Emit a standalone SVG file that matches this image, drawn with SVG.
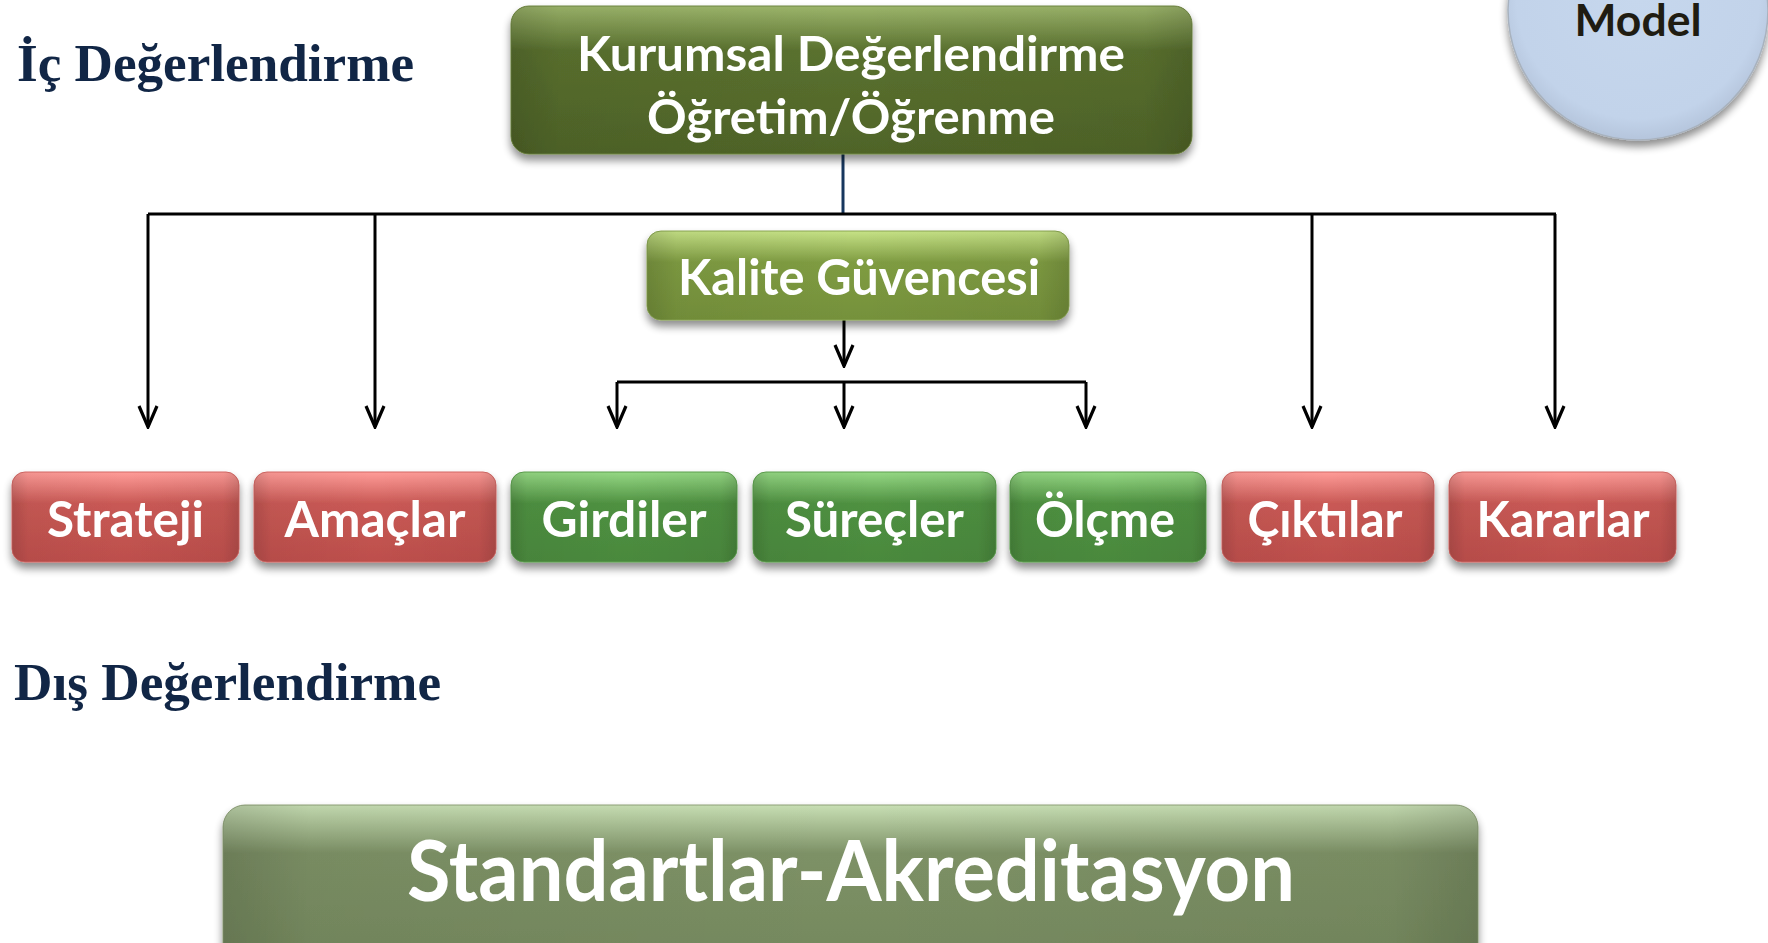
<svg xmlns="http://www.w3.org/2000/svg" width="1768" height="943" viewBox="0 0 1768 943">
<defs>
<style>
.head{font-family:"Liberation Serif","Times New Roman",serif;font-weight:bold;fill:#112646;font-size:52px}
.bt{font-family:Lato,"Open Sans","Liberation Sans",sans-serif;font-weight:bold;fill:#ffffff;text-anchor:middle}
.ln{stroke:#000;stroke-width:3;fill:none}
.box{filter:url(#sh)}
.sideshade{fill:url(#gSide)}
</style>
<filter id="sh" x="-10%" y="-20%" width="120%" height="150%">
<feGaussianBlur in="SourceAlpha" stdDeviation="4"/>
<feOffset dy="6" result="b"/>
<feComponentTransfer><feFuncA type="linear" slope="0.45"/></feComponentTransfer>
<feMerge><feMergeNode/><feMergeNode in="SourceGraphic"/></feMerge>
</filter>
<linearGradient id="gSide" x1="0" y1="0" x2="1" y2="0">
<stop offset="0" stop-color="#000" stop-opacity="0.14"/><stop offset="0.07" stop-color="#000" stop-opacity="0.04"/><stop offset="0.5" stop-color="#000" stop-opacity="0"/><stop offset="0.93" stop-color="#000" stop-opacity="0.04"/><stop offset="1" stop-color="#000" stop-opacity="0.14"/>
</linearGradient>
<linearGradient id="gDark" x1="0" y1="0" x2="0" y2="1">
<stop offset="0" stop-color="#9cb56b"/><stop offset="0.3" stop-color="#5a712f"/><stop offset="1" stop-color="#4f6428"/>
</linearGradient>
<linearGradient id="gKal" x1="0" y1="0" x2="0" y2="1">
<stop offset="0" stop-color="#c6e286"/><stop offset="0.35" stop-color="#7f9c42"/><stop offset="1" stop-color="#75913b"/>
</linearGradient>
<linearGradient id="gRed" x1="0" y1="0" x2="0" y2="1">
<stop offset="0" stop-color="#ff9c98"/><stop offset="0.35" stop-color="#c95955"/><stop offset="1" stop-color="#bd4f4c"/>
</linearGradient>
<linearGradient id="gGrn" x1="0" y1="0" x2="0" y2="1">
<stop offset="0" stop-color="#95d884"/><stop offset="0.35" stop-color="#4f9141"/><stop offset="1" stop-color="#4a893d"/>
</linearGradient>
<linearGradient id="gStd" x1="0" y1="0" x2="0" y2="1">
<stop offset="0" stop-color="#c8dfb4"/><stop offset="0.3" stop-color="#7d9166"/><stop offset="1" stop-color="#74885d"/>
</linearGradient>
<radialGradient id="gCirc" cx="0.5" cy="0.45" r="0.55">
<stop offset="0" stop-color="#c6d7ed"/><stop offset="0.85" stop-color="#c2d3ea"/><stop offset="1" stop-color="#b5c5dc"/>
</radialGradient>
<marker id="arr" viewBox="0 0 26 22" refX="24" refY="11" markerWidth="26" markerHeight="22" markerUnits="userSpaceOnUse" orient="auto">
<path d="M3,2 L24,11 L3,20" fill="none" stroke="#000" stroke-width="3.2"/>
</marker>
</defs>
<rect width="1768" height="943" fill="#ffffff"/>

<g id="model">
<circle cx="1638" cy="10" r="130" fill="url(#gCirc)" stroke="#a8b2be" stroke-width="1.5" filter="url(#sh)"/>
<text x="1638" y="36" text-anchor="middle" style="font-family:Lato,'Open Sans','Liberation Sans',sans-serif;font-weight:bold;font-size:44px;fill:#1f1c12" textLength="127" lengthAdjust="spacingAndGlyphs">Model</text>
</g>

<g id="ic-degerlendirme">
<text class="head" x="17" y="81" textLength="397" lengthAdjust="spacingAndGlyphs">İç Değerlendirme</text>
</g>
<g id="dis-degerlendirme">
<text class="head" x="14" y="700" textLength="427" lengthAdjust="spacingAndGlyphs">Dış Değerlendirme</text>
</g>

<g id="connectors">
<path d="M843,154 V214" stroke="#17375e" stroke-width="3" fill="none"/>
<path class="ln" d="M148,214 H1556"/>
<path class="ln" d="M148,214 V427" marker-end="url(#arr)"/>
<path class="ln" d="M375,214 V427" marker-end="url(#arr)"/>
<path class="ln" d="M1312,214 V427" marker-end="url(#arr)"/>
<path class="ln" d="M1555,214 V427" marker-end="url(#arr)"/>
<path class="ln" d="M844,320 V366" marker-end="url(#arr)"/>
<path class="ln" d="M617,382 H1086"/>
<path class="ln" d="M617,382 V427" marker-end="url(#arr)"/>
<path class="ln" d="M844,382 V427" marker-end="url(#arr)"/>
<path class="ln" d="M1086,382 V427" marker-end="url(#arr)"/>
</g>

<g id="kurumsal" class="box">
<rect x="511" y="6" width="681" height="148" rx="18" fill="url(#gDark)" stroke="#6f8640" stroke-width="1"/>
<rect class="sideshade" x="511" y="6" width="681" height="148" rx="18"/>
<text class="bt" x="851" y="71" font-size="48" textLength="548" lengthAdjust="spacingAndGlyphs">Kurumsal Değerlendirme</text>
<text class="bt" x="851" y="134" font-size="48" textLength="408" lengthAdjust="spacingAndGlyphs">Öğretim/Öğrenme</text>
</g>

<g id="kalite" class="box">
<rect x="647" y="231" width="422" height="89" rx="14" fill="url(#gKal)" stroke="#8aa652" stroke-width="1"/>
<rect class="sideshade" x="647" y="231" width="422" height="89" rx="14"/>
<text class="bt" x="859" y="295" font-size="50" textLength="362" lengthAdjust="spacingAndGlyphs">Kalite Güvencesi</text>
</g>

<g id="strateji" class="box">
<rect x="12" y="472" width="227" height="90" rx="13" fill="url(#gRed)" stroke="#d56a66" stroke-width="1"/>
<rect class="sideshade" x="12" y="472" width="227" height="90" rx="13"/>
<text class="bt" x="125.5" y="537" font-size="50" textLength="157" lengthAdjust="spacingAndGlyphs">Strateji</text>
</g>
<g id="amaclar" class="box">
<rect x="254" y="472" width="242" height="90" rx="13" fill="url(#gRed)" stroke="#d56a66" stroke-width="1"/>
<rect class="sideshade" x="254" y="472" width="242" height="90" rx="13"/>
<text class="bt" x="375" y="537" font-size="50" textLength="181" lengthAdjust="spacingAndGlyphs">Amaçlar</text>
</g>
<g id="girdiler" class="box">
<rect x="511" y="472" width="226" height="90" rx="13" fill="url(#gGrn)" stroke="#5fa250" stroke-width="1"/>
<rect class="sideshade" x="511" y="472" width="226" height="90" rx="13"/>
<text class="bt" x="624" y="537" font-size="50" textLength="165" lengthAdjust="spacingAndGlyphs">Girdiler</text>
</g>
<g id="surecler" class="box">
<rect x="753" y="472" width="243" height="90" rx="13" fill="url(#gGrn)" stroke="#5fa250" stroke-width="1"/>
<rect class="sideshade" x="753" y="472" width="243" height="90" rx="13"/>
<text class="bt" x="874.5" y="537" font-size="50" textLength="179" lengthAdjust="spacingAndGlyphs">Süreçler</text>
</g>
<g id="olcme" class="box">
<rect x="1010" y="472" width="196" height="90" rx="13" fill="url(#gGrn)" stroke="#5fa250" stroke-width="1"/>
<rect class="sideshade" x="1010" y="472" width="196" height="90" rx="13"/>
<text class="bt" x="1105" y="537" font-size="50" textLength="140" lengthAdjust="spacingAndGlyphs">Ölçme</text>
</g>
<g id="ciktilar" class="box">
<rect x="1222" y="472" width="212" height="90" rx="13" fill="url(#gRed)" stroke="#d56a66" stroke-width="1"/>
<rect class="sideshade" x="1222" y="472" width="212" height="90" rx="13"/>
<text class="bt" x="1325" y="537" font-size="50" textLength="155" lengthAdjust="spacingAndGlyphs">Çıktılar</text>
</g>
<g id="kararlar" class="box">
<rect x="1449" y="472" width="227" height="90" rx="13" fill="url(#gRed)" stroke="#d56a66" stroke-width="1"/>
<rect class="sideshade" x="1449" y="472" width="227" height="90" rx="13"/>
<text class="bt" x="1563" y="537" font-size="50" textLength="173" lengthAdjust="spacingAndGlyphs">Kararlar</text>
</g>

<g id="standartlar" class="box">
<rect x="223" y="805" width="1255" height="160" rx="22" fill="url(#gStd)" stroke="#8ea078" stroke-width="1"/>
<rect class="sideshade" x="223" y="805" width="1255" height="160" rx="22"/>
<text class="bt" x="851" y="901" font-size="84" textLength="888" lengthAdjust="spacingAndGlyphs">Standartlar-Akreditasyon</text>
</g>
</svg>
